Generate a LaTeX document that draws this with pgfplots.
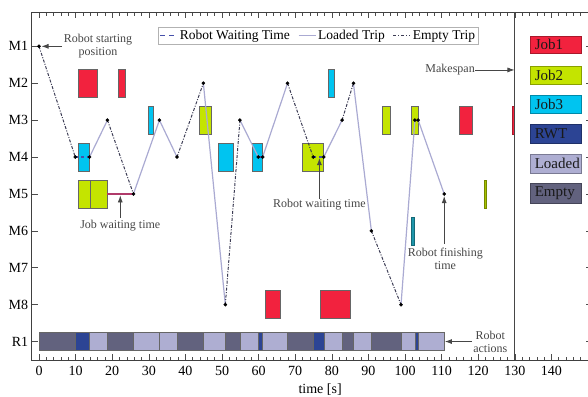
\documentclass[border=0pt]{standalone}
\usepackage{pgfplots}
\pgfplotsset{compat=1.18}
\usepackage{fontspec}
\setmainfont{Liberation Serif}
\usetikzlibrary{arrows.meta}

\definecolor{jobA}{RGB}{242,34,62}
\definecolor{jobB}{RGB}{196,228,0}
\definecolor{jobC}{RGB}{0,196,240}
\definecolor{jobCt}{RGB}{30,150,170}
\definecolor{rwt}{RGB}{44,68,148}
\definecolor{loaded}{RGB}{174,174,210}
\definecolor{empty}{RGB}{98,98,126}
\definecolor{loadline}{RGB}{170,170,210}
\definecolor{emptyline}{RGB}{60,60,84}
\definecolor{rwtline}{RGB}{70,80,170}
\definecolor{jwait}{RGB}{176,58,106}
\definecolor{annot}{RGB}{70,70,70}

\newcommand{\rect}[5]{\addplot[fill=#1, draw=black!60, line width=0.6pt, forget plot] coordinates {(#2,#4) (#3,#4) (#3,#5) (#2,#5)} -- cycle;}
\newcommand{\thinrect}[5]{\addplot[fill=#1, draw=#1!70!black, line width=0.4pt, forget plot] coordinates {(#2,#4) (#3,#4) (#3,#5) (#2,#5)} -- cycle;}

\begin{document}
\begin{tikzpicture}
\begin{axis}[
  scale only axis, width=560pt, height=348pt,
  xmin=-2, xmax=151, ymin=0.07, ymax=9.5, y dir=reverse,
  xtick={0,10,...,150}, minor x tick num=4,
  xticklabels={0,10,20,30,40,50,60,70,80,90,100,110,120,130,140,{}},
  ytick={1,2,3,4,5,6,7,8,9}, yticklabels={M1,M2,M3,M4,M5,M6,M7,M8,R1},
  major tick length=6pt, minor tick length=3.5pt,
  every tick/.style={black!70, line width=0.6pt},
  axis line style={black!75, line width=0.8pt},
  tick label style={font=\fontsize{14}{16}\selectfont},
  /pgf/number format/assume math mode=true,
  xticklabel style={yshift=-3pt},
  clip=false,
  legend style={at={(0.225,0.958)}, anchor=north west, legend columns=3,
    draw=black!30, font=\fontsize{13.5}{15}\selectfont, inner sep=1.5pt,
    /tikz/every even column/.append style={column sep=6pt}},
  legend cell align=left,
]
\addlegendimage{rwtline, line width=1.3pt, dash pattern=on 5pt off 4pt}
\addlegendentry{Robot Waiting Time}
\addlegendimage{loadline, line width=1.2pt}
\addlegendentry{Loaded Trip}
\addlegendimage{emptyline, line width=1pt, dash pattern=on 3pt off 2pt on 1pt off 2pt}
\addlegendentry{Empty Trip}

% R1 robot actions
\rect{empty}{0}{9.9}{8.75}{9.25}
\rect{rwt}{9.9}{13.8}{8.75}{9.25}
\rect{loaded}{13.8}{18.7}{8.75}{9.25}
\rect{empty}{18.7}{25.8}{8.75}{9.25}
\rect{loaded}{25.8}{32.9}{8.75}{9.25}
\rect{loaded}{32.9}{37.7}{8.75}{9.25}
\rect{empty}{37.7}{44.9}{8.75}{9.25}
\rect{loaded}{44.9}{50.9}{8.75}{9.25}
\rect{empty}{50.9}{54.9}{8.75}{9.25}
\rect{loaded}{54.9}{59.9}{8.75}{9.25}
\rect{rwt}{59.9}{61.1}{8.75}{9.25}
\rect{loaded}{61.1}{67.9}{8.75}{9.25}
\rect{empty}{67.9}{74.9}{8.75}{9.25}
\rect{rwt}{74.9}{77.9}{8.75}{9.25}
\rect{loaded}{77.9}{82.9}{8.75}{9.25}
\rect{empty}{82.9}{85.9}{8.75}{9.25}
\rect{loaded}{85.9}{90.7}{8.75}{9.25}
\rect{empty}{90.7}{98.9}{8.75}{9.25}
\rect{loaded}{98.9}{102.7}{8.75}{9.25}
\rect{rwt}{102.7}{103.7}{8.75}{9.25}
\rect{loaded}{103.7}{110.7}{8.75}{9.25}

% M2
\rect{jobA}{10.8}{15.8}{1.62}{2.38}
\rect{jobA}{21.7}{23.7}{1.62}{2.38}
\rect{jobC}{79}{80.6}{1.62}{2.38}
% M3
\rect{jobC}{29.9}{31.1}{2.62}{3.38}
\rect{jobB}{43.8}{47.2}{2.62}{3.38}
\rect{jobB}{93.8}{95.9}{2.62}{3.38}
\rect{jobB}{101.8}{103.7}{2.62}{3.38}
\rect{jobA}{114.7}{118.5}{2.62}{3.38}
\thinrect{jobA}{129.2}{129.9}{2.62}{3.38}
% M4
\rect{jobC}{10.8}{13.7}{3.62}{4.38}
\rect{jobC}{49}{53}{3.62}{4.38}
\rect{jobC}{58.3}{61.1}{3.62}{4.38}
\rect{jobB}{72}{77.8}{3.62}{4.38}
% M5
\rect{jobB}{10.8}{13.9}{4.62}{5.38}
\rect{jobB}{13.9}{18.7}{4.62}{5.38}
\thinrect{jobB!85!black}{121.6}{122.3}{4.62}{5.38}
% M6
\thinrect{jobCt}{101.8}{102.5}{5.62}{6.38}
% M8
\rect{jobA}{61.9}{65.8}{7.62}{8.38}
\rect{jobA}{76.8}{85}{7.62}{8.38}

% right-hand legend swatches
\thinrect{jobA}{134.3}{148.2}{0.72}{1.19}
\thinrect{jobB}{134.3}{148.2}{1.53}{2.02}
\thinrect{jobC}{134.3}{148.2}{2.32}{2.81}
\thinrect{rwt}{134.3}{148.2}{3.11}{3.62}
\thinrect{loaded}{134.3}{148.2}{3.92}{4.43}
\thinrect{empty}{134.3}{148.2}{4.71}{5.24}

% makespan line
\addplot[annot, line width=1.1pt, forget plot] coordinates {(130,0.07) (130,9.5)};

% job waiting time
\addplot[jwait, line width=1.3pt, forget plot] coordinates {(18.7,5) (25.8,5)};

% robot waiting time
\addplot[rwtline, line width=1.2pt, dash pattern=on 3pt off 3pt, forget plot] coordinates {(9.9,4) (13.8,4)};
\addplot[rwtline, line width=1.2pt, forget plot] coordinates {(59.9,4) (61.1,4)};
\addplot[rwtline, line width=1.2pt, dash pattern=on 3pt off 3pt, forget plot] coordinates {(74.9,4) (77.8,4)};
\addplot[rwtline, line width=1.2pt, forget plot] coordinates {(102.7,3) (103.6,3)};

% loaded trips
\addplot[loadline, line width=1.2pt, forget plot] coordinates {(13.8,4) (18.7,3)};
\addplot[loadline, line width=1.2pt, forget plot] coordinates {(25.8,5) (32.9,3) (37.7,4)};
\addplot[loadline, line width=1.2pt, forget plot] coordinates {(44.9,2) (50.9,8)};
\addplot[loadline, line width=1.2pt, forget plot] coordinates {(54.9,3) (59.9,4)};
\addplot[loadline, line width=1.2pt, forget plot] coordinates {(61.1,4) (67.9,2)};
\addplot[loadline, line width=1.2pt, forget plot] coordinates {(77.8,4) (82.8,3)};
\addplot[loadline, line width=1.2pt, forget plot] coordinates {(85.9,2) (90.8,6)};
\addplot[loadline, line width=1.2pt, forget plot] coordinates {(98.9,8) (102.7,3)};
\addplot[loadline, line width=1.2pt, forget plot] coordinates {(103.6,3) (110.7,5)};

% empty trips
\pgfplotsset{emptytrip/.style={emptyline, line width=1pt, dash pattern=on 3pt off 1.5pt on 1pt off 1.5pt, forget plot}}
\addplot[emptytrip] coordinates {(0,1) (9.9,4)};
\addplot[emptytrip] coordinates {(18.7,3) (25.8,5)};
\addplot[emptytrip] coordinates {(37.7,4) (44.9,2)};
\addplot[emptytrip] coordinates {(50.9,8) (54.9,3)};
\addplot[emptytrip] coordinates {(67.9,2) (74.9,4)};
\addplot[emptytrip] coordinates {(82.8,3) (85.9,2)};
\addplot[emptytrip] coordinates {(90.8,6) (98.9,8)};

% robot positions
\addplot[only marks, mark=*, mark size=1.6pt, black, forget plot] coordinates {
(0,1) (9.9,4) (13.8,4) (18.7,3) (25.8,5) (32.9,3) (37.7,4) (44.9,2) (50.9,8)
(54.9,3) (59.9,4) (61.1,4) (67.9,2) (74.9,4) (77.8,4) (82.8,3) (85.9,2)
(90.8,6) (98.9,8) (102.7,3) (103.6,3) (110.7,5)};

% legend labels on the right
\begin{scope}[every node/.style={font=\fontsize{15}{17}\selectfont, anchor=west, inner sep=0pt, text=black!90}]
\node at (axis cs:135.4,0.955) {Job1};
\node at (axis cs:135.4,1.775) {Job2};
\node at (axis cs:135.4,2.565) {Job3};
\node at (axis cs:135.4,3.365) {RWT};
\node at (axis cs:135.4,4.175) {Loaded};
\node at (axis cs:135.4,4.975) {Empty};
\end{scope}

% annotations
\begin{scope}[every node/.style={font=\fontsize{12}{13}\selectfont, text=annot, align=center, inner sep=0pt}]
\node at (axis cs:16.1,1.0) {Robot starting\\position};
\node at (axis cs:22.2,5.85) {Job waiting time};
\node at (axis cs:76.6,5.3) {Robot waiting time};
\node at (axis cs:111,6.77) {Robot finishing\\time};
\node[anchor=east] at (axis cs:119.1,1.64) {Makespan};
\node at (axis cs:123.3,9.02) {Robot\\actions};
\end{scope}
\begin{scope}[annot, line width=0.7pt, -{Latex[length=7pt,width=5pt]}]
\draw (axis cs:6.3,1) -- (axis cs:0.7,1);
\draw (axis cs:22.2,5.65) -- (axis cs:22.2,5.04);
\draw (axis cs:76.6,5.14) -- (axis cs:76.6,4.03);
\draw (axis cs:110.7,6.35) -- (axis cs:110.7,5.06);
\draw (axis cs:119.1,1.64) -- (axis cs:129.9,1.64);
\draw (axis cs:118.2,9.0) -- (axis cs:110.9,9.0);
\end{scope}

\node[font=\fontsize{14}{16}\selectfont, anchor=base, yshift=-33pt] at (axis cs:76.8,9.5) {time [s]};
\end{axis}
\pgfresetboundingbox
\useasboundingbox (-31.7pt,-36pt) rectangle (556.3pt,360pt);
\end{tikzpicture}
\end{document}
